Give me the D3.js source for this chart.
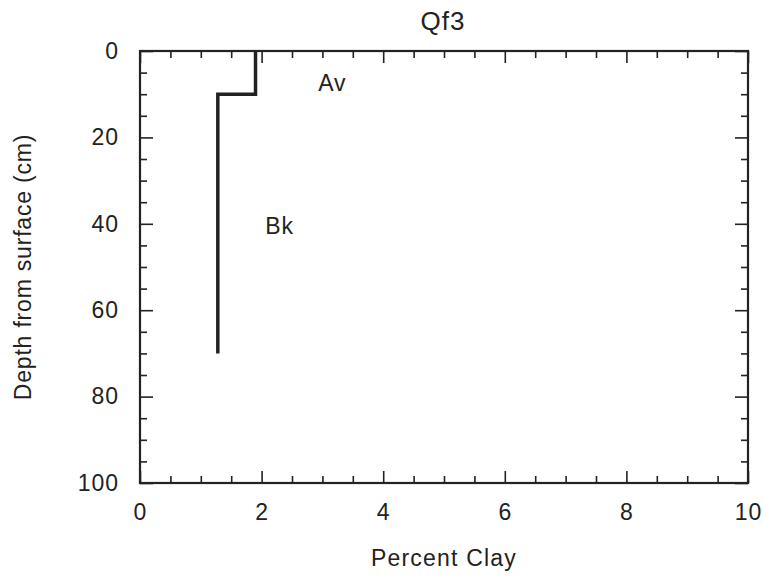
<!doctype html>
<html lang="en">
  <head>
    <meta charset="UTF-8" />
    <title>Qf3</title>
    <script src="https://d3js.org/d3.v7.min.js"></script>
    <style>
      body {
        margin: 0;
        background: #ffffff;
        font-family: 'Liberation Sans', Arial, sans-serif;
      }
      text {
        fill: #222222;
      }
    </style>
  </head>
  <body>
    <div id="chart"></div>
    <script>
      // Clay profile (step line): depth in cm, percent clay
      const depths = [0, 10, 10, 70]
      const clay = [1.9, 1.9, 1.28, 1.28]

      const xTicks = [0, 2, 4, 6, 8, 10]
      const yTicks = [0, 20, 40, 60, 80, 100]

      const horizons = [
        { name: 'Av', clay: 2.93, depth: 9.3 },
        { name: 'Bk', clay: 2.06, depth: 42.3 },
      ]

      const width = 763
      const height = 578
      const margin = { top: 51, right: 15, bottom: 95, left: 140 }
      const innerW = width - margin.left - margin.right
      const innerH = height - margin.top - margin.bottom
      const fontFamily = "'Liberation Sans', Arial, sans-serif"

      const svg = d3
        .select('#chart')
        .append('svg')
        .attr('width', width)
        .attr('height', height)

      const g = svg.append('g').attr('transform', `translate(${margin.left}, ${margin.top})`)

      const x = d3.scaleLinear().domain([0, 10]).range([0, innerW])
      const y = d3.scaleLinear().domain([0, 100]).range([0, innerH])

      const minorX = d3.range(0, 10.01, 0.5).filter((v) => v % 2 !== 0)
      const minorY = d3.range(0, 100.1, 5).filter((v) => v % 20 !== 0)

      function styleAxis(sel) {
        sel.select('.domain').remove()
        sel.selectAll('.tick line').attr('stroke', '#222').attr('stroke-width', 1.6)
        sel
          .selectAll('.tick text')
          .attr('font-size', '23px')
          .attr('font-family', fontFamily)
          .attr('letter-spacing', '1px')
          .attr('fill', '#222')
      }

      // bottom axis with labels
      g.append('g')
        .attr('transform', `translate(0, ${innerH})`)
        .call(d3.axisBottom(x).tickValues(xTicks).tickSize(-12).tickPadding(21).tickFormat(d3.format('d')))
        .call(styleAxis)
      g.append('g')
        .attr('transform', `translate(0, ${innerH})`)
        .call(d3.axisBottom(x).tickValues(minorX).tickSize(-7).tickFormat(''))
        .call(styleAxis)

      // top axis
      g.append('g')
        .call(d3.axisTop(x).tickValues(xTicks).tickSize(-12).tickFormat(''))
        .call(styleAxis)
      g.append('g')
        .call(d3.axisTop(x).tickValues(minorX).tickSize(-7).tickFormat(''))
        .call(styleAxis)

      // left axis with labels
      g.append('g')
        .call(d3.axisLeft(y).tickValues(yTicks).tickSize(-13).tickPadding(21).tickFormat(d3.format('d')))
        .call(styleAxis)
      g.append('g')
        .call(d3.axisLeft(y).tickValues(minorY).tickSize(-7).tickFormat(''))
        .call(styleAxis)

      // right axis
      g.append('g')
        .attr('transform', `translate(${innerW}, 0)`)
        .call(d3.axisRight(y).tickValues(yTicks).tickSize(-13).tickFormat(''))
        .call(styleAxis)
      g.append('g')
        .attr('transform', `translate(${innerW}, 0)`)
        .call(d3.axisRight(y).tickValues(minorY).tickSize(-7).tickFormat(''))
        .call(styleAxis)

      // frame
      g.append('rect')
        .attr('width', innerW)
        .attr('height', innerH)
        .attr('fill', 'none')
        .attr('stroke', '#222')
        .attr('stroke-width', 2.2)

      // profile line
      const line = d3
        .line()
        .x((d, i) => x(clay[i]))
        .y((d) => y(d))
      g.append('path')
        .datum(depths)
        .attr('d', line)
        .attr('fill', 'none')
        .attr('stroke', '#222')
        .attr('stroke-width', 3.5)

      // horizon labels
      g.selectAll('.horizon')
        .data(horizons)
        .enter()
        .append('text')
        .attr('x', (d) => x(d.clay))
        .attr('y', (d) => y(d.depth))
        .attr('font-size', '23px')
        .attr('letter-spacing', '1px')
        .text((d) => d.name)

      // title
      svg
        .append('text')
        .attr('x', 443)
        .attr('y', 30)
        .attr('text-anchor', 'middle')
        .attr('font-size', '26px')
        .attr('letter-spacing', '1px')
        .text('Qf3')

      // axis titles
      svg
        .append('text')
        .attr('x', 444)
        .attr('y', 566)
        .attr('text-anchor', 'middle')
        .attr('font-size', '23px')
        .attr('letter-spacing', '1.2px')
        .text('Percent Clay')

      svg
        .append('text')
        .attr('transform', `translate(31, ${margin.top + innerH / 2}) rotate(-90)`)
        .attr('text-anchor', 'middle')
        .attr('font-size', '23px')
        .attr('letter-spacing', '0.8px')
        .text('Depth from surface (cm)')
    </script>
  </body>
</html>
